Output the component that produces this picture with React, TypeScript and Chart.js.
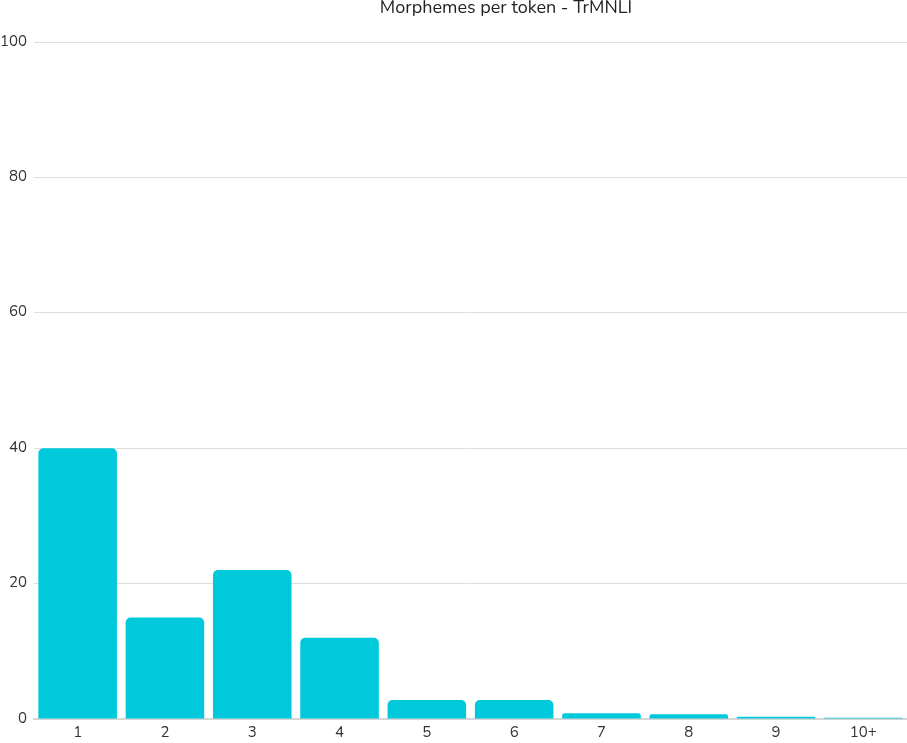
import React, { useEffect, useRef } from "react";
import { Chart, registerables } from "chart.js";

Chart.register(...registerables);

const categories = ["1", "2", "3", "4", "5", "6", "7", "8", "9", "10+"];
const values = [40, 15, 22, 12, 2.8, 2.8, 0.85, 0.7, 0.35, 0.2];
const titleText = "Morphemes per token - TrMNLI";
const yMin = 0;
const yMax = 100;
const yStep = 20;

const FONT = "Nunito, Lato, 'Open Sans', sans-serif";

export default function App() {
  const ref = useRef<HTMLCanvasElement | null>(null);

  useEffect(() => {
    document.body.style.margin = "0";
    const ctx = ref.current;
    if (!ctx) return;
    const chart = new Chart(ctx, {
      type: "bar",
      data: {
        labels: categories,
        datasets: [
          {
            data: values,
            backgroundColor: "#00C9DC",
            borderWidth: 0,
            borderRadius: { topLeft: 5, topRight: 5, bottomLeft: 0, bottomRight: 0 },
            borderSkipped: "bottom",
            categoryPercentage: 0.9,
            barPercentage: 1,
          },
        ],
      },
      options: {
        animation: false,
        responsive: false,
        maintainAspectRatio: false,
        layout: { padding: { top: 42, bottom: -4, left: 0, right: 0 } },
        plugins: {
          legend: { display: false },
          title: { display: false },
          tooltip: { enabled: false },
        },
        scales: {
          x: {
            grid: { display: false, drawTicks: false },
            border: { display: true, color: "#d6d6d6", width: 2 },
            ticks: {
              padding: 5,
              color: "#333",
              font: { family: FONT, size: 15 },
            },
          },
          y: {
            min: yMin,
            max: yMax,
            grid: { color: "#dedede", drawTicks: false },
            border: { display: false },
            ticks: {
              stepSize: yStep,
              padding: 7,
              color: "#333",
              font: { family: FONT, size: 15 },
            },
            afterFit: (scale: any) => {
              scale.width = 34;
            },
          },
        },
      },
    });
    return () => chart.destroy();
  }, []);

  return (
    <div style={{ position: "relative", width: 907, height: 743, overflow: "hidden" }}>
      <canvas ref={ref} width={907} height={743} style={{ display: "block" }} />
      <div
        style={{
          position: "absolute",
          top: -4,
          left: 0,
          width: 1012,
          textAlign: "center",
          fontFamily: FONT,
          fontSize: 18,
          color: "#222",
          lineHeight: "22px",
          whiteSpace: "nowrap",
        }}
      >
        {titleText}
      </div>
    </div>
  );
}
